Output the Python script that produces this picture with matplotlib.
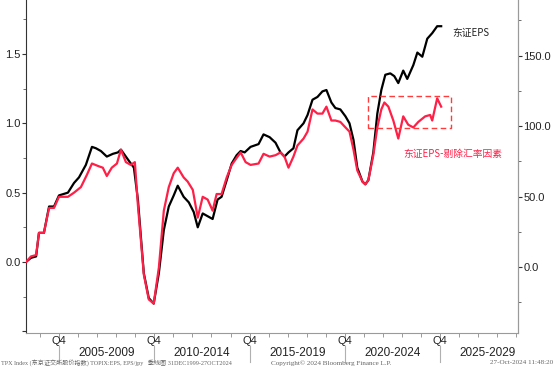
import matplotlib

matplotlib.use("Agg")
import matplotlib.pyplot as plt
from matplotlib.patches import Rectangle
from matplotlib.ticker import FixedLocator, FuncFormatter, MultipleLocator
from matplotlib.transforms import blended_transform_factory

# 东证EPS (TOPIX EPS), decimal years
eps_dates = [
    2003.02, 2003.28, 2003.55, 2003.70, 2003.96, 2004.23, 2004.49, 2004.75,
    2005.22, 2005.54, 2005.80, 2006.16, 2006.48, 2006.69, 2006.95, 2007.26,
    2007.58, 2007.84, 2008.00, 2008.31, 2008.52, 2008.68, 2008.89, 2009.20,
    2009.46, 2009.72, 2009.99, 2010.25, 2010.51, 2010.77, 2010.98, 2011.29,
    2011.56, 2011.82, 2012.03, 2012.29, 2012.55, 2012.81, 2013.07, 2013.28,
    2013.55, 2013.81, 2014.07, 2014.28, 2014.49, 2014.80, 2015.22, 2015.48,
    2015.80, 2016.11, 2016.37, 2016.58, 2016.79, 2017.05, 2017.26, 2017.58,
    2017.79, 2018.05, 2018.31, 2018.57, 2018.78, 2019.04, 2019.25, 2019.51,
    2019.78, 2019.99, 2020.20, 2020.40, 2020.67, 2020.82, 2020.98, 2021.24,
    2021.45, 2021.66, 2021.87, 2022.13, 2022.34, 2022.55, 2022.81, 2023.02,
    2023.34, 2023.55, 2023.81, 2024.07, 2024.33, 2024.59, 2024.80,
]
eps_values = [
    0.00, 0.03, 0.04, 0.21, 0.21, 0.40, 0.40, 0.48,
    0.50, 0.57, 0.61, 0.70, 0.83, 0.82, 0.80, 0.76,
    0.78, 0.79, 0.81, 0.75, 0.71, 0.68, 0.45, -0.08,
    -0.26, -0.30, -0.08, 0.23, 0.40, 0.48, 0.55, 0.47,
    0.43, 0.36, 0.25, 0.35, 0.33, 0.31, 0.45, 0.47,
    0.59, 0.71, 0.77, 0.80, 0.79, 0.83, 0.85, 0.92,
    0.90, 0.86, 0.79, 0.76, 0.79, 0.82, 0.95, 1.00,
    1.06, 1.17, 1.19, 1.23, 1.24, 1.15, 1.11, 1.10,
    1.05, 1.00, 0.88, 0.68, 0.58, 0.56, 0.59, 0.79,
    1.07, 1.24, 1.35, 1.36, 1.34, 1.29, 1.38, 1.32,
    1.42, 1.51, 1.48, 1.61, 1.65, 1.70, 1.70,
]

# 东证EPS-剔除汇率因素
fx_dates = [
    2003.02, 2003.28, 2003.55, 2003.70, 2003.96, 2004.23, 2004.49, 2004.75,
    2005.22, 2005.54, 2005.90, 2006.22, 2006.48, 2006.84, 2007.05, 2007.26,
    2007.52, 2007.79, 2008.00, 2008.26, 2008.52, 2008.73, 2008.89, 2009.20,
    2009.46, 2009.72, 2009.99, 2010.25, 2010.51, 2010.77, 2010.98, 2011.29,
    2011.50, 2011.77, 2012.03, 2012.29, 2012.55, 2012.81, 2013.02, 2013.28,
    2013.55, 2013.81, 2014.12, 2014.28, 2014.54, 2014.80, 2015.22, 2015.48,
    2015.80, 2016.11, 2016.37, 2016.58, 2016.79, 2017.05, 2017.26, 2017.58,
    2017.79, 2018.05, 2018.31, 2018.57, 2018.78, 2019.04, 2019.25, 2019.51,
    2019.78, 2019.99, 2020.20, 2020.40, 2020.67, 2020.82, 2020.98, 2021.24,
    2021.45, 2021.66, 2021.82, 2022.03, 2022.29, 2022.55, 2022.81, 2023.07,
    2023.34, 2023.60, 2023.96, 2024.22, 2024.33, 2024.59, 2024.80,
]
fx_values = [
    0.00, 0.04, 0.05, 0.21, 0.21, 0.39, 0.39, 0.47,
    0.47, 0.50, 0.54, 0.63, 0.71, 0.69, 0.68, 0.62,
    0.68, 0.71, 0.81, 0.72, 0.70, 0.72, 0.41, -0.09,
    -0.27, -0.30, -0.04, 0.37, 0.54, 0.64, 0.68, 0.61,
    0.58, 0.52, 0.32, 0.47, 0.45, 0.37, 0.49, 0.49,
    0.61, 0.70, 0.76, 0.79, 0.72, 0.70, 0.71, 0.78,
    0.76, 0.77, 0.79, 0.76, 0.68, 0.76, 0.84, 0.89,
    0.94, 1.10, 1.07, 1.07, 1.12, 1.02, 1.02, 1.01,
    0.97, 0.94, 0.81, 0.66, 0.58, 0.56, 0.59, 0.77,
    0.97, 1.10, 1.15, 1.12, 1.02, 0.89, 1.05, 0.99,
    0.97, 1.01, 1.05, 1.06, 1.02, 1.18, 1.12,
]

period_starts = [2004.75, 2009.75, 2014.75, 2019.75, 2024.75]
period_labels = ["2005-2009", "2010-2014", "2015-2019", "2020-2024", "2025-2029"]

BLACK = "#000000"
RED = "#ff1f47"
GREY = "#9a9a9a"
LATIN = "Liberation Sans"
CJK = ["Noto Sans CJK SC", "DejaVu Sans"]

fig = plt.figure(figsize=(5.54, 3.68), dpi=100)
axis = fig.add_axes([26 / 554, 1 - 333 / 368, (518 - 26) / 554, 333 / 368])
axis.set_xlim(2003.02, 2028.83)
axis.set_ylim(-0.512, 1.889)

axis.plot(eps_dates, eps_values, color=BLACK, linewidth=1.6, zorder=3)
axis.plot(fx_dates, fx_values, color=RED, linewidth=1.6, zorder=4)

axis.add_patch(
    Rectangle(
        (2020.98, 0.966), 4.35, 0.231,
        fill=False, edgecolor="#ff3b3b", linestyle=(0, (4, 2.5)), linewidth=1.0, zorder=5,
    )
)
axis.text(2025.38, 1.65, "东证EPS", family=CJK, fontsize=7, color="#222222", va="center")
axis.text(2022.81, 0.78, "东证EPS-剔除汇率因素", family=CJK, fontsize=7, color=RED, va="center")

axis.spines["top"].set_visible(False)
axis.spines["left"].set_color("#333333")
axis.spines["bottom"].set_color(GREY)
axis.spines["right"].set_color(GREY)

axis.yaxis.set_major_locator(FixedLocator([-0.5, 0.0, 0.5, 1.0, 1.5]))
axis.yaxis.set_major_formatter(FuncFormatter(lambda v, _: "" if v < -0.4 else f"{v:.1f}"))
axis.yaxis.set_minor_locator(FixedLocator([-0.25, 0.25, 0.75, 1.25, 1.75]))
axis.tick_params(axis="y", which="major", length=3, width=0.8, color="#333333", pad=1,
                 labelsize=8, labelcolor="#222222")
axis.tick_params(axis="y", which="minor", length=2, width=0.6, color="#555555")
for label in axis.get_yticklabels():
    label.set_family(LATIN)

axis.xaxis.set_major_locator(MultipleLocator(1.0, offset=0.75))
axis.xaxis.set_major_formatter(FuncFormatter(lambda v, _: ""))
axis.tick_params(axis="x", which="major", length=3, width=0.7, color=GREY)

right = axis.twinx()
right.set_ylim(-46.8, 189.4)
right.spines["top"].set_visible(False)
right.spines["left"].set_visible(False)
right.spines["bottom"].set_visible(False)
right.spines["right"].set_color(GREY)
right.yaxis.set_major_locator(FixedLocator([0, 50, 100, 150]))
right.yaxis.set_major_formatter(FuncFormatter(lambda v, _: f"{v:.1f}"))
right.yaxis.set_minor_locator(FixedLocator([-25, 25, 75, 125, 175]))
right.tick_params(axis="y", which="major", length=3, width=0.8, color="#333333", pad=1,
                  labelsize=8, labelcolor="#222222")
right.tick_params(axis="y", which="minor", length=2, width=0.6, color="#555555")
for label in right.get_yticklabels():
    label.set_family(LATIN)

blend = blended_transform_factory(axis.transData, fig.transFigure)
for start in period_starts:
    axis.text(start, 1 - 341 / 368, "Q4", transform=blend, ha="center", va="center",
              family=LATIN, fontsize=8, color="#222222")
    axis.plot([start, start], [1 - 346 / 368, 1 - 362 / 368], transform=blend,
              color="#b0b0b0", linewidth=0.8, clip_on=False)
for start, label in zip(period_starts, period_labels):
    axis.text(start + 2.5, 1 - 353 / 368, label, transform=blend, ha="center", va="center",
              family=LATIN, fontsize=8.5, color="#222222")

fig.text(0.002, 1 - 363 / 368,
         "TPX Index (东京证交所股价指数) TOPIX:EPS, EPS/jpy   季线图 31DEC1999-27OCT2024",
         family=["Liberation Serif", "Noto Sans CJK SC"], fontsize=4.4, color="#666666",
         va="center", ha="left")
fig.text(331 / 554, 1 - 363 / 368, "Copyright© 2024 Bloomberg Finance L.P.",
         family="Liberation Serif", fontsize=5.1, color="#666666", va="center", ha="center")
fig.text(0.998, 1 - 363 / 368, "27-Oct-2024 11:48:20",
         family="Liberation Serif", fontsize=5.1, color="#666666", va="center", ha="right")

fig.savefig("out.png", dpi=100)
plt.close(fig)
